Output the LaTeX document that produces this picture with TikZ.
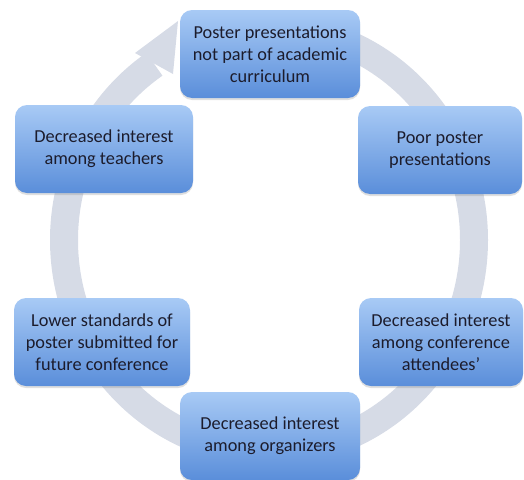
\documentclass[tikz,border=0pt]{standalone}
\usepackage{fontspec}
\setmainfont{Carlito}
\usetikzlibrary{shadows}
\definecolor{ringgray}{HTML}{D6DBE6}
\definecolor{boxtop}{HTML}{A8CAF5}
\definecolor{boxbottom}{HTML}{5A8EDA}
\definecolor{boxtext}{HTML}{1C1C2C}

\tikzset{
  stage/.style={rounded corners=12pt, top color=boxtop, bottom color=boxbottom,
    text=boxtext, align=center, inner sep=0pt, minimum height=88pt,
    font=\fontsize{18.3}{22}\selectfont,
    drop shadow={shadow xshift=0pt, shadow yshift=-2pt, opacity=0.25}},
}

\begin{document}
\begin{tikzpicture}[x=1pt,y=-1pt]
  \useasboundingbox (0,0) rectangle (524,479);

  % the cycle ring, then its head
  \draw[ringgray, line width=28pt]
    (269,240) ++(270:205 and 212) arc[start angle=270, end angle=596, x radius=205, y radius=212];
  \coordinate (tip) at (178,21);
  \fill[ringgray] (135,53) -- (tip) -- (173,74) -- cycle;

  \node[stage, minimum width=180pt] (curr) at (270,54) {Poster presentations\\not part of academic\\curriculum};
  \node[stage, minimum width=164pt] (poor) at (440,150) {Poor poster\\presentations};
  \node[stage, minimum width=164pt] (attend) at (441,342) {Decreased interest\\among conference\\attendees’};
  \node[stage, minimum width=180pt] (org) at (270,436) {Decreased interest\\among organizers};
  \node[stage, minimum width=176pt] (lower) at (102,342) {Lower standards of\\poster submitted for\\future conference};
  \node[stage, minimum width=178pt] (teach) at (104,149) {Decreased interest\\among teachers};
\end{tikzpicture}
\end{document}
